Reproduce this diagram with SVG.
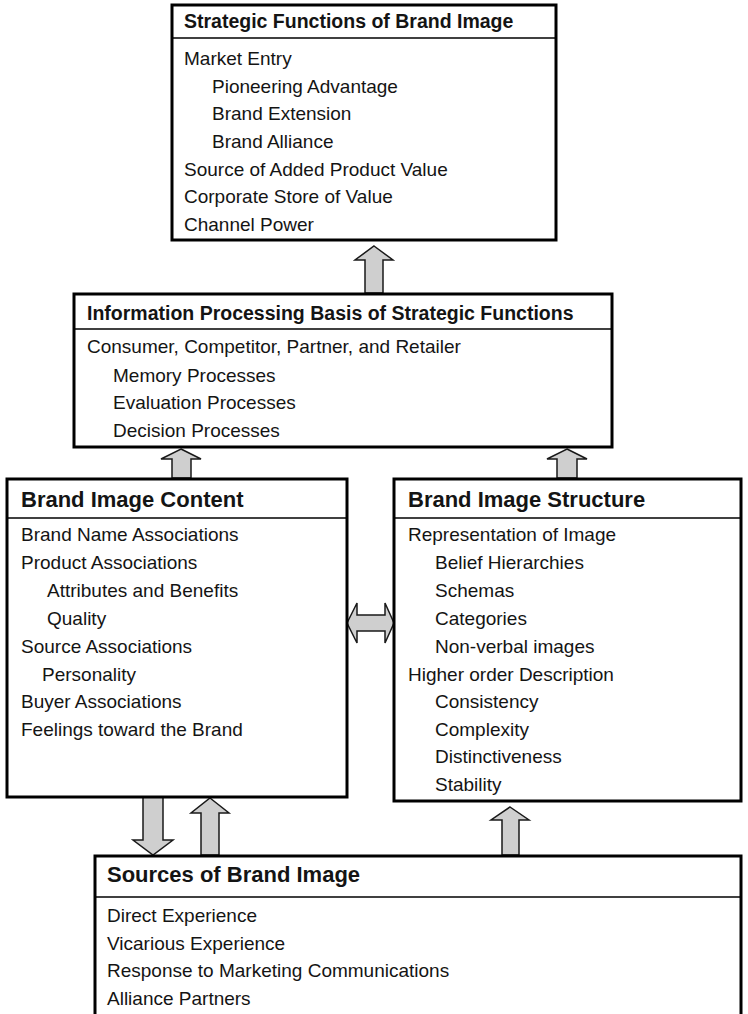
<svg xmlns="http://www.w3.org/2000/svg" width="748" height="1014" viewBox="0 0 748 1014">
<style>
.box{fill:#fff;stroke:#000;stroke-width:3}
.div{stroke:#000;stroke-width:1.5}
.t{font-family:"Liberation Sans",Arial,sans-serif;fill:#141414}
.b{font-size:19px}
.h1{font-size:19.5px;font-weight:bold}
.h2{font-size:22px;font-weight:bold}
.ar{fill:#cfcfcf;stroke:#1a1a1a;stroke-width:1.5;stroke-linejoin:miter}
</style>
<rect width="748" height="1014" fill="#fff"/>
<g id="connectors">
<polygon class="ar" points="374,246 393,260 383,260 383,293 365,293 365,260 355,260"/>
<polygon class="ar" points="181,449 201,459 191,459 191,478 172,478 172,459 161,459"/>
<polygon class="ar" points="567,449 587,459 577,459 577,478 557,478 557,459 547,459"/>
<polygon class="ar" points="143,797 163,797 163,840 173,840 153,855 133,840 143,840"/>
<polygon class="ar" points="210,798 229,813 219,813 219,855 201,855 201,813 191,813"/>
<polygon class="ar" points="510,807 529,820 519,820 519,855 502,855 502,820 491,820"/>
<polygon class="ar" points="347,623 357,603 357,615 385,615 385,603 394,623 385,643 385,631 357,631 357,643"/>
</g>
<g id="strategic-functions">
<rect class="box" x="172" y="5" width="384" height="235"/>
<line class="div" x1="172" y1="38" x2="556" y2="38"/>
<text class="t h1" x="184" y="28">Strategic Functions of Brand Image</text>
<text class="t b" x="184" y="65">Market Entry</text>
<text class="t b" x="212" y="93">Pioneering Advantage</text>
<text class="t b" x="212" y="120">Brand Extension</text>
<text class="t b" x="212" y="148">Brand Alliance</text>
<text class="t b" x="184" y="176">Source of Added Product Value</text>
<text class="t b" x="184" y="203">Corporate Store of Value</text>
<text class="t b" x="184" y="231">Channel Power</text>
</g>
<g id="information-processing">
<rect class="box" x="74" y="294" width="538" height="153"/>
<line class="div" x1="74" y1="329" x2="612" y2="329"/>
<text class="t h1" x="87" y="320">Information Processing Basis of Strategic Functions</text>
<text class="t b" x="87" y="353">Consumer, Competitor, Partner, and Retailer</text>
<text class="t b" x="113" y="382">Memory Processes</text>
<text class="t b" x="113" y="409">Evaluation Processes</text>
<text class="t b" x="113" y="437">Decision Processes</text>
</g>
<g id="brand-image-content">
<rect class="box" x="7" y="479" width="340" height="318"/>
<line class="div" x1="7" y1="518" x2="347" y2="518"/>
<text class="t h2" x="21" y="507">Brand Image Content</text>
<text class="t b" x="21" y="541">Brand Name Associations</text>
<text class="t b" x="21" y="569">Product Associations</text>
<text class="t b" x="47" y="597">Attributes and Benefits</text>
<text class="t b" x="47" y="625">Quality</text>
<text class="t b" x="21" y="653">Source Associations</text>
<text class="t b" x="42" y="681">Personality</text>
<text class="t b" x="21" y="708">Buyer Associations</text>
<text class="t b" x="21" y="736">Feelings toward the Brand</text>
</g>
<g id="brand-image-structure">
<rect class="box" x="394" y="479" width="347" height="322"/>
<line class="div" x1="394" y1="518" x2="741" y2="518"/>
<text class="t h2" x="408" y="507">Brand Image Structure</text>
<text class="t b" x="408" y="541">Representation of Image</text>
<text class="t b" x="435" y="569">Belief Hierarchies</text>
<text class="t b" x="435" y="597">Schemas</text>
<text class="t b" x="435" y="625">Categories</text>
<text class="t b" x="435" y="653">Non-verbal images</text>
<text class="t b" x="408" y="681">Higher order Description</text>
<text class="t b" x="435" y="708">Consistency</text>
<text class="t b" x="435" y="736">Complexity</text>
<text class="t b" x="435" y="763">Distinctiveness</text>
<text class="t b" x="435" y="791">Stability</text>
</g>
<g id="sources-of-brand-image">
<rect class="box" x="95" y="856" width="646" height="200"/>
<line class="div" x1="95" y1="897" x2="741" y2="897"/>
<text class="t h2" x="107" y="882">Sources of Brand Image</text>
<text class="t b" x="107" y="922">Direct Experience</text>
<text class="t b" x="107" y="950">Vicarious Experience</text>
<text class="t b" x="107" y="977">Response to Marketing Communications</text>
<text class="t b" x="107" y="1005">Alliance Partners</text>
</g>
</svg>
